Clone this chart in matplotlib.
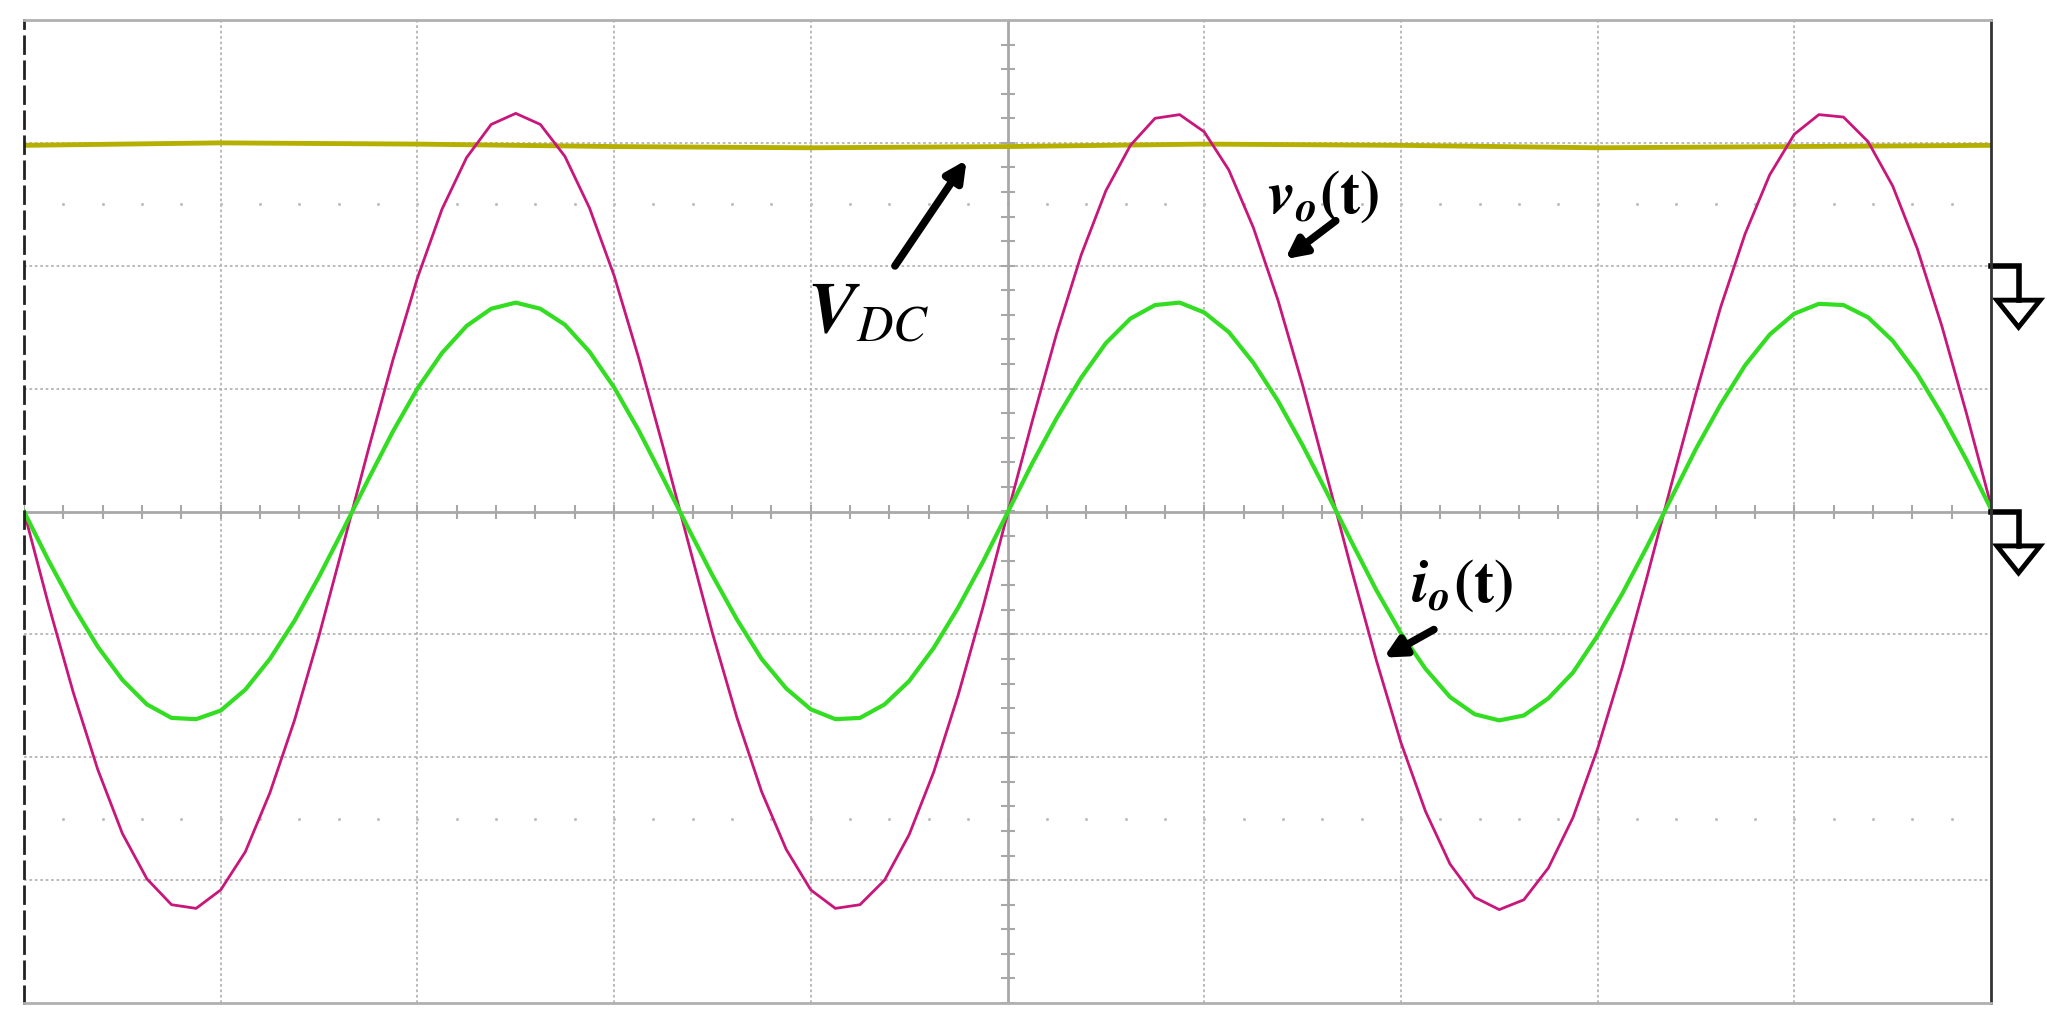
import numpy as np
import matplotlib.pyplot as plt

plt.rcParams['mathtext.fontset'] = 'stix'

# time axis in divisions (0.125 div steps), values in divisions
t_div = np.arange(81) * 0.125
vo = [0, -.76, -1.47, -2.10, -2.62, -2.99, -3.20, -3.23, -3.08, -2.77, -2.29, -1.70, -1.01, -.26,
      .50, 1.23, 1.90, 2.46, 2.88, 3.15, 3.24, 3.15, 2.89, 2.47, 1.92, 1.25, .52, -.24, -.99,
      -1.68, -2.28, -2.75, -3.08, -3.23, -3.20, -3.00, -2.63, -2.12, -1.49, -.78, -.02, .73,
      1.45, 2.09, 2.61, 2.98, 3.20, 3.23, 3.09, 2.78, 2.31, 1.72, 1.03, .28, -.48, -1.21, -1.88,
      -2.44, -2.87, -3.14, -3.24, -3.16, -2.90, -2.49, -1.93, -1.27, -.54, .22, .96, 1.66, 2.26,
      2.74, 3.07, 3.23, 3.21, 3.01, 2.65, 2.14, 1.51, .80, .05]
io = [0, -.40, -.77, -1.10, -1.37, -1.57, -1.68, -1.69, -1.62, -1.45, -1.20, -.89, -.53, -.14,
      .26, .65, 1.00, 1.29, 1.51, 1.65, 1.70, 1.65, 1.52, 1.30, 1.01, .66, .27, -.13, -.52,
      -.88, -1.20, -1.44, -1.61, -1.69, -1.68, -1.57, -1.38, -1.11, -.78, -.41, -.01, .39,
      .76, 1.09, 1.37, 1.57, 1.68, 1.70, 1.62, 1.46, 1.21, .90, .54, .15, -.25, -.64, -.99,
      -1.28, -1.51, -1.65, -1.70, -1.66, -1.52, -1.31, -1.01, -.67, -.29, .11, .51, .87, 1.19,
      1.44, 1.61, 1.69, 1.68, 1.58, 1.39, 1.12, .79, .42, .02]
vdc_t = [0, 1, 2, 3, 4, 5, 6, 7, 8, 9, 10]
vdc = [2.98, 3.00, 2.99, 2.97, 2.96, 2.97, 2.99, 2.98, 2.96, 2.97, 2.98]

fig = plt.figure(figsize=(20.47, 10.17), dpi=100)
ax = fig.add_axes([24/2047, 1 - 1003/1017, (1991-24)/2047, (1003-20)/1017])
ax.set_xlim(0, 10)
ax.set_ylim(-4, 4)
ax.set_xticks([]); ax.set_yticks([])
for s in ax.spines.values():
    s.set_color('#b0b0b0'); s.set_linewidth(2)
ax.spines['left'].set_color('#222222'); ax.spines['left'].set_linestyle((0, (6, 3)))
ax.spines['right'].set_color('#333333')

# graticule
for x in range(1, 10):
    if x != 5:
        ax.axvline(x, color='#b5b5b5', lw=1.3, ls=(0, (1.5, 1.5)))
for y in range(-3, 4):
    if y != 0:
        ax.axhline(y, color='#b5b5b5', lw=1.3, ls=(0, (1.5, 1.5)))
for y in (-2.5, 2.5):
    ax.plot(np.arange(0.2, 10, 0.2), [y] * 49, ls='none', marker='.', ms=2.5, color='#c0c0c0')
ax.axvline(5, color='#a8a8a8', lw=2)
ax.axhline(0, color='#a8a8a8', lw=2)
mt = np.arange(-4, 4.01, 0.2)
ax.plot([5] * len(mt), mt, ls='none', marker='_', ms=10, mew=1.5, color='#a8a8a8')
mx = np.arange(0, 10.01, 0.2)
ax.plot(mx, [0] * len(mx), ls='none', marker='|', ms=10, mew=1.5, color='#a8a8a8')

ax.plot(vdc_t, vdc, color='#b5b000', lw=3.5)
ax.plot(t_div, vo, color='#c8167a', lw=2)
ax.plot(t_div, io, color='#33dd22', lw=3)

# ground markers
for g in (2, 0):
    ax.plot([10, 10.14, 10.14], [g, g, g - 0.28], color='black', lw=4, clip_on=False,
            solid_joinstyle='miter')
    ax.fill([10.03, 10.25, 10.14], [g - 0.28, g - 0.28, g - 0.5], facecolor='white',
            edgecolor='black', lw=3.5, clip_on=False)

ap = dict(arrowstyle='-|>,head_width=0.6,head_length=1.2', color='black', lw=5.5)
ax.annotate('', xy=(4.8, 2.88), xytext=(4.42, 1.98), arrowprops=ap)
ax.text(3.98, 1.62, r'$\mathbfit{V}_{\mathit{DC}}$', fontsize=52, va='center', ha='left')
ax.annotate('', xy=(6.4, 2.04), xytext=(6.68, 2.38), arrowprops=ap)
ax.text(6.32, 2.57, r'$\mathbfit{v}_{\mathbfit{o}}\mathbf{(t)}$', fontsize=44, va='center', ha='left')
ax.annotate('', xy=(6.9, -1.2), xytext=(7.18, -0.95), arrowprops=ap)
ax.text(7.05, -0.6, r'$\mathbfit{i}_{\mathbfit{o}}\mathbf{(t)}$', fontsize=44, va='center', ha='left')

fig.savefig('out.png', dpi=100)
